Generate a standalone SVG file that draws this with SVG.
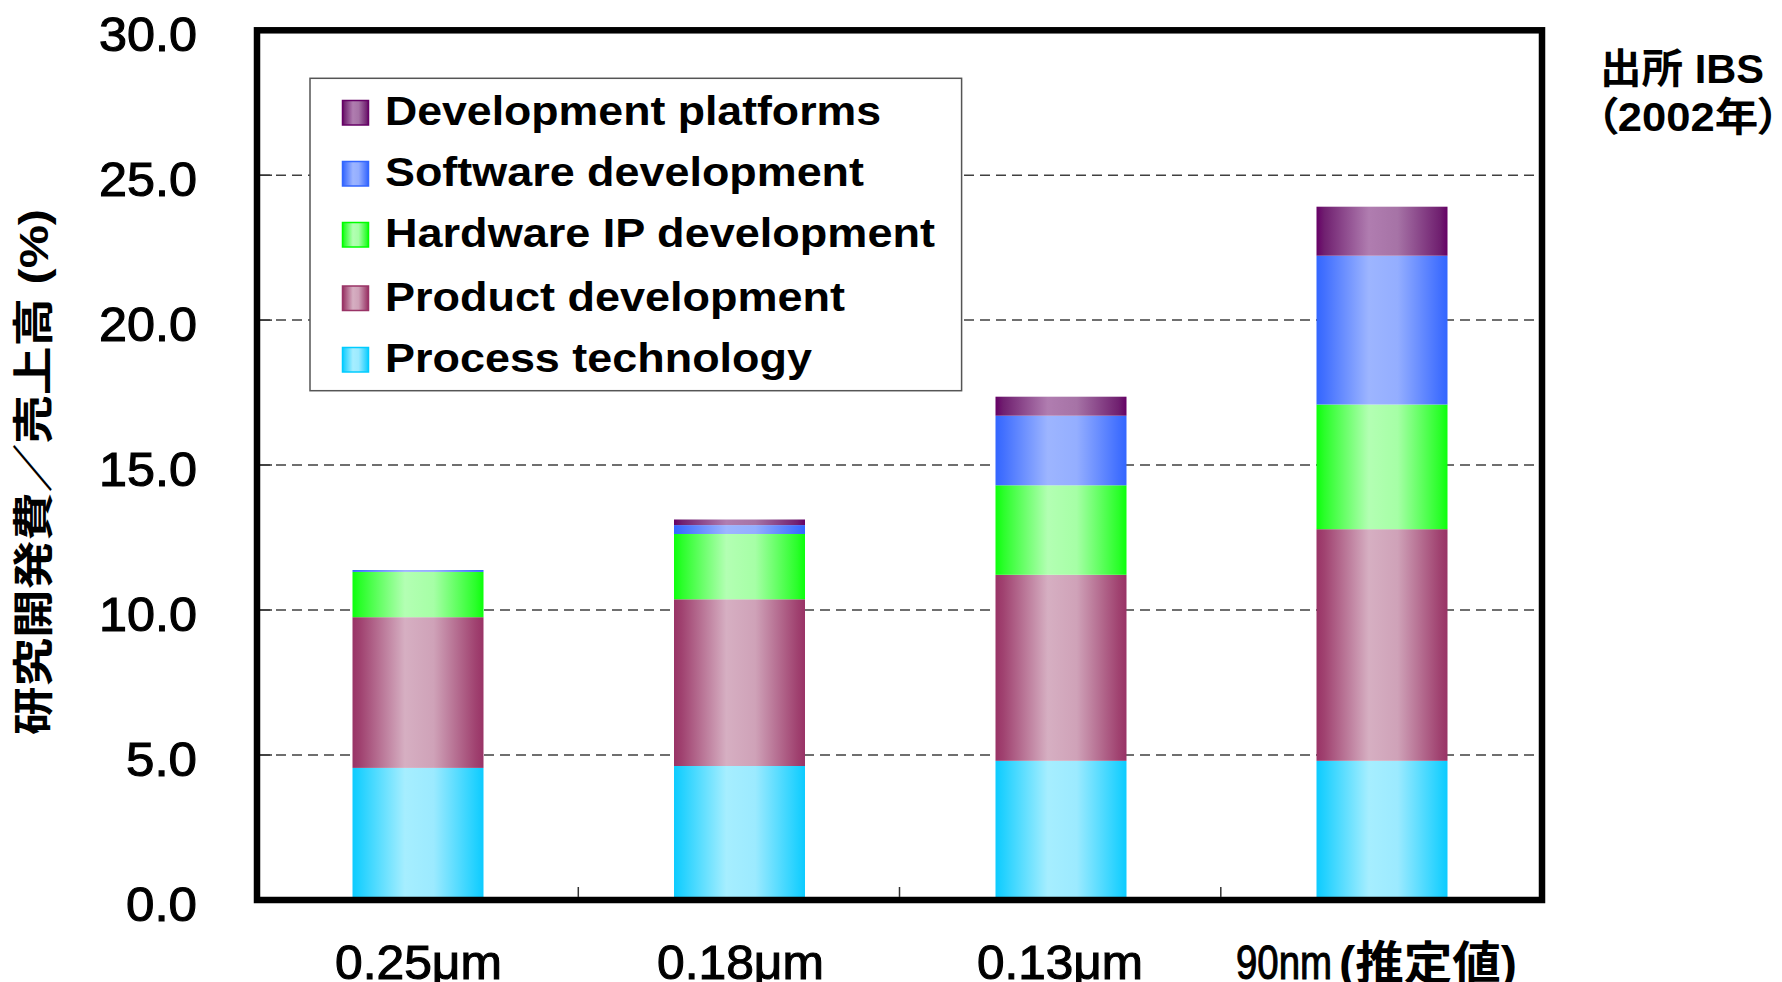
<svg xmlns="http://www.w3.org/2000/svg" width="1782" height="982" viewBox="0 0 1782 982">
<defs>
  <linearGradient id="gPT" x1="0" y1="0" x2="1" y2="0">
    <stop offset="0" stop-color="#0DCBFF"/>
    <stop offset="0.06" stop-color="#22D1FF"/>
    <stop offset="0.4" stop-color="#A6EEFF"/>
    <stop offset="0.62" stop-color="#9CEAFF"/>
    <stop offset="0.94" stop-color="#22D1FF"/>
    <stop offset="1" stop-color="#0DCBFF"/>
  </linearGradient>
  <linearGradient id="gPD" x1="0" y1="0" x2="1" y2="0">
    <stop offset="0" stop-color="#993366"/>
    <stop offset="0.06" stop-color="#A04270"/>
    <stop offset="0.4" stop-color="#D6AFC2"/>
    <stop offset="0.62" stop-color="#CFA2B8"/>
    <stop offset="0.94" stop-color="#A04270"/>
    <stop offset="1" stop-color="#993366"/>
  </linearGradient>
  <linearGradient id="gHW" x1="0" y1="0" x2="1" y2="0">
    <stop offset="0" stop-color="#0CFF0C"/>
    <stop offset="0.06" stop-color="#2AFF2A"/>
    <stop offset="0.4" stop-color="#B3FFB3"/>
    <stop offset="0.62" stop-color="#A6FFA6"/>
    <stop offset="0.94" stop-color="#2AFF2A"/>
    <stop offset="1" stop-color="#0CFF0C"/>
  </linearGradient>
  <linearGradient id="gSW" x1="0" y1="0" x2="1" y2="0">
    <stop offset="0" stop-color="#3366FF"/>
    <stop offset="0.06" stop-color="#4270FF"/>
    <stop offset="0.4" stop-color="#9DB5FF"/>
    <stop offset="0.62" stop-color="#94AEFF"/>
    <stop offset="0.94" stop-color="#4270FF"/>
    <stop offset="1" stop-color="#3366FF"/>
  </linearGradient>
  <linearGradient id="gDP" x1="0" y1="0" x2="1" y2="0">
    <stop offset="0" stop-color="#660066"/>
    <stop offset="0.06" stop-color="#702070"/>
    <stop offset="0.4" stop-color="#B07DB0"/>
    <stop offset="0.62" stop-color="#A673A6"/>
    <stop offset="0.94" stop-color="#702070"/>
    <stop offset="1" stop-color="#660066"/>
  </linearGradient>
</defs>
<style>
  .grid { stroke:#404040; stroke-width:1.5; stroke-dasharray:10 6; fill:none; }
  .tick { stroke:#333; stroke-width:1.5; }
  .ylab { font-family:"Liberation Sans",Arial,sans-serif; font-size:49px; text-anchor:end; fill:#000; stroke:#000; stroke-width:1.1; }
  .xlab { font-family:"Liberation Sans",Arial,sans-serif; font-size:49px; fill:#000; stroke:#000; stroke-width:1.1; }
  .leg { font-family:"Liberation Sans",Arial,sans-serif; font-weight:bold; font-size:40px; fill:#000; }
  .cjk { font-family:"Liberation Sans","Noto Sans CJK JP",sans-serif; font-weight:bold; fill:#000; }
  .palt { font-feature-settings:"palt"; }
  .PT { fill:url(#gPT); }
  .PD { fill:url(#gPD); }
  .HW { fill:url(#gHW); }
  .SW { fill:url(#gSW); }
  .DP { fill:url(#gDP); }
</style>
<rect x="0" y="0" width="1782" height="982" fill="#fff"/>

<g id="gridlines">
  <line class="grid" x1="260" y1="175.2" x2="1539" y2="175.2"/>
  <line class="grid" x1="260" y1="320.1" x2="1539" y2="320.1"/>
  <line class="grid" x1="260" y1="465" x2="1539" y2="465"/>
  <line class="grid" x1="260" y1="610" x2="1539" y2="610"/>
  <line class="grid" x1="260" y1="755" x2="1539" y2="755"/>
  <line class="tick" x1="260" y1="175.2" x2="272" y2="175.2"/>
  <line class="tick" x1="260" y1="320.1" x2="272" y2="320.1"/>
  <line class="tick" x1="260" y1="465" x2="272" y2="465"/>
  <line class="tick" x1="260" y1="610" x2="272" y2="610"/>
  <line class="tick" x1="260" y1="755" x2="272" y2="755"/>
</g>

<g id="bar-025">
  <rect class="PT" x="352.5" y="767.9" width="131" height="132.1"/>
  <rect class="PD" x="352.5" y="617.2" width="131" height="150.7"/>
  <rect class="HW" x="352.5" y="571.9" width="131" height="45.3"/>
  <rect class="SW" x="352.5" y="570" width="131" height="1.9"/>
</g>
<g id="bar-018">
  <rect class="PT" x="674" y="766" width="131" height="134"/>
  <rect class="PD" x="674" y="599.3" width="131" height="166.7"/>
  <rect class="HW" x="674" y="534" width="131" height="65.3"/>
  <rect class="SW" x="674" y="525.1" width="131" height="8.9"/>
  <rect class="DP" x="674" y="519.5" width="131" height="5.6"/>
</g>
<g id="bar-013">
  <rect class="PT" x="995.5" y="760.8" width="131" height="139.2"/>
  <rect class="PD" x="995.5" y="574.8" width="131" height="186"/>
  <rect class="HW" x="995.5" y="485.3" width="131" height="89.5"/>
  <rect class="SW" x="995.5" y="415.7" width="131" height="69.6"/>
  <rect class="DP" x="995.5" y="396.7" width="131" height="19"/>
</g>
<g id="bar-90nm">
  <rect class="PT" x="1316.5" y="760.8" width="131" height="139.2"/>
  <rect class="PD" x="1316.5" y="529.2" width="131" height="231.6"/>
  <rect class="HW" x="1316.5" y="404.5" width="131" height="124.7"/>
  <rect class="SW" x="1316.5" y="255.7" width="131" height="148.8"/>
  <rect class="DP" x="1316.5" y="206.7" width="131" height="49"/>
</g>

<g id="axes">
  <rect x="257" y="30.3" width="1285" height="869.7" fill="none" stroke="#000" stroke-width="6.5"/>
  <line class="tick" x1="578.3" y1="887" x2="578.3" y2="897"/>
  <line class="tick" x1="899.5" y1="887" x2="899.5" y2="897"/>
  <line class="tick" x1="1220.8" y1="887" x2="1220.8" y2="897"/>
</g>

<g id="y-labels">
  <text class="ylab" x="197" y="50.5" textLength="98" lengthAdjust="spacingAndGlyphs">30.0</text>
  <text class="ylab" x="197" y="195.7" textLength="98" lengthAdjust="spacingAndGlyphs">25.0</text>
  <text class="ylab" x="197" y="341" textLength="98" lengthAdjust="spacingAndGlyphs">20.0</text>
  <text class="ylab" x="197" y="486" textLength="98" lengthAdjust="spacingAndGlyphs">15.0</text>
  <text class="ylab" x="197" y="631" textLength="98" lengthAdjust="spacingAndGlyphs">10.0</text>
  <text class="ylab" x="197" y="776" textLength="71" lengthAdjust="spacingAndGlyphs">5.0</text>
  <text class="ylab" x="197" y="921" textLength="71" lengthAdjust="spacingAndGlyphs">0.0</text>
</g>

<g id="x-labels">
  <text class="xlab" x="335" y="979" textLength="167" lengthAdjust="spacingAndGlyphs">0.25μm</text>
  <text class="xlab" x="657" y="979" textLength="167" lengthAdjust="spacingAndGlyphs">0.18μm</text>
  <text class="xlab" x="977" y="979" textLength="166" lengthAdjust="spacingAndGlyphs">0.13μm</text>
  <text class="xlab" x="1236" y="979" textLength="96" lengthAdjust="spacingAndGlyphs">90nm</text>
  <text class="cjk" x="1339" y="979" font-size="46" textLength="178" lengthAdjust="spacingAndGlyphs">(推定値)</text>
</g>

<g id="y-title">
  <text class="cjk" transform="translate(48,472) rotate(-90)" x="0" y="0" font-size="41" text-anchor="middle" textLength="526" lengthAdjust="spacingAndGlyphs">研究開発費／売上高 (%)</text>
</g>

<g id="source">
  <text class="cjk" x="1600" y="83" font-size="41" textLength="164" lengthAdjust="spacingAndGlyphs">出所 IBS</text>
  <text class="cjk palt" x="1596" y="131" font-size="40" textLength="184" lengthAdjust="spacingAndGlyphs">（2002年）</text>
</g>

<g id="legend">
  <rect x="310" y="78.3" width="651.6" height="312.4" fill="#fff" stroke="#555" stroke-width="1.5"/>
  <g id="legend-dp">
    <rect class="DP" x="342.5" y="100.5" width="26" height="24.5" stroke="#660066" stroke-width="1.5"/>
    <text class="leg" x="385" y="125" textLength="496" lengthAdjust="spacingAndGlyphs">Development platforms</text>
  </g>
  <g id="legend-sw">
    <rect class="SW" x="342.5" y="161.5" width="26" height="24.5" stroke="#3366FF" stroke-width="1.5"/>
    <text class="leg" x="385" y="186" textLength="479" lengthAdjust="spacingAndGlyphs">Software development</text>
  </g>
  <g id="legend-hw">
    <rect class="HW" x="342.5" y="222.5" width="26" height="24.5" stroke="#00FF00" stroke-width="1.5"/>
    <text class="leg" x="385" y="247" textLength="550" lengthAdjust="spacingAndGlyphs">Hardware IP development</text>
  </g>
  <g id="legend-pd">
    <rect class="PD" x="342.5" y="286" width="26" height="24.5" stroke="#993366" stroke-width="1.5"/>
    <text class="leg" x="385" y="310.7" textLength="460" lengthAdjust="spacingAndGlyphs">Product development</text>
  </g>
  <g id="legend-pt">
    <rect class="PT" x="342.5" y="347.5" width="26" height="24.5" stroke="#00CCFF" stroke-width="1.5"/>
    <text class="leg" x="385" y="371.7" textLength="427" lengthAdjust="spacingAndGlyphs">Process technology</text>
  </g>
</g>
</svg>
